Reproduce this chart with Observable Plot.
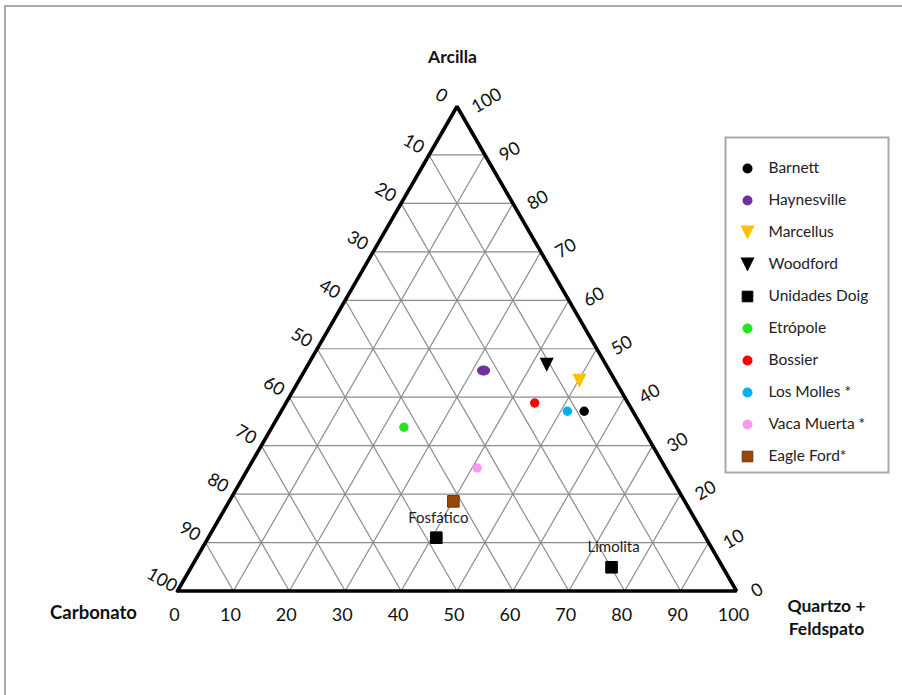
<!DOCTYPE html>
<html><head><meta charset="utf-8">
<script src="https://cdn.jsdelivr.net/npm/d3@7"></script>
<script src="https://cdn.jsdelivr.net/npm/@observablehq/plot@0.6"></script>
<style>
body{margin:0;background:#fff;font-family:Lato,sans-serif;}
#wrap{position:relative;width:902px;height:695px;overflow:hidden;}
#chart{position:absolute;left:0;top:0;}
#legend{position:absolute;left:724px;top:136px;}
#frame{position:absolute;left:4px;top:5px;width:940px;height:760px;border:2px solid #a9a9a9;pointer-events:none;}
</style></head><body>
<div id="wrap"><div id="chart"></div><div id="legend"></div><div id="frame"></div></div>
<script>
// ---- data ----
const series = ["Barnett","Haynesville","Marcellus","Woodford","Unidades Doig","Etrópole","Bossier","Los Molles *","Vaca Muerta *","Eagle Ford*"];
const colors = ["#000000","#7030a0","#ffc000","#000000","#000000","#22e622","#ff0000","#00b0f0","#f59cf2","#984807"];
const shapes = ["circle","ellipse","triangleDown","triangleDown","square","circle","circle","circle","circle","square"];

const sampleSeries = ["Barnett","Haynesville","Marcellus","Woodford","Unidades Doig","Unidades Doig","Etrópole","Bossier","Los Molles *","Vaca Muerta *","Eagle Ford*"];
const sampleLabel  = ["","","","","Fosfático","Limolita","","","","",""];
const arcilla   = [37.1,45.5,43.4,46.7,11.0, 4.9,33.8,38.8,37.1,25.4,18.5];
const quartzo   = [54.2,32.0,50.2,42.7,40.8,75.2,23.6,44.5,51.2,40.9,40.1];
const carbonato = [ 8.7,22.5, 6.4,10.6,48.2,19.9,42.6,16.7,11.7,33.7,41.4];

const ticks = [0,10,20,30,40,50,60,70,80,90,100];
const gridSteps = [10,20,30,40,50,60,70,80,90];

// ---- ternary helpers (x = quartzo + arcilla/2, y = arcilla) ----
const tx = (q, a) => q + a / 2;

const samples = sampleSeries.map((s, i) => {
  const k = series.indexOf(s);
  return {serie: s, label: sampleLabel[i], A: arcilla[i], Q: quartzo[i], C: carbonato[i],
          color: colors[k], edge: d3.color(colors[k]).darker(0.9).formatHex(), shape: shapes[k]};
});

const gridLines = [
  ...gridSteps.map(k => ({x1: tx(0, k), y1: k, x2: tx(100 - k, k), y2: k})),            // constant arcilla
  ...gridSteps.map(k => ({x1: tx(k, 0), y1: 0, x2: tx(k, 100 - k), y2: 100 - k})),      // constant quartzo
  ...gridSteps.map(k => ({x1: tx(100 - k, 0), y1: 0, x2: tx(0, 100 - k), y2: 100 - k})) // constant carbonato
];
const corners = [{q:0,a:0},{q:100,a:0},{q:0,a:100},{q:0,a:0}];

// ---- symbols ----
const rOf = size => Math.sqrt(size / Math.PI);
const triDown = {draw(ctx, size){ const r = rOf(size); ctx.moveTo(-r,-r); ctx.lineTo(r,-r); ctx.lineTo(0,r); ctx.closePath(); }};
const squareSym = {draw(ctx, size){ const r = rOf(size); ctx.rect(-r,-r,2*r,2*r); }};
const ellipseSym = {draw(ctx, size){
  const r = rOf(size), rx = r * 1.3, ry = r, k = 0.5523;
  ctx.moveTo(rx,0);
  ctx.bezierCurveTo(rx, ry*k, rx*k, ry, 0, ry);
  ctx.bezierCurveTo(-rx*k, ry, -rx, ry*k, -rx, 0);
  ctx.bezierCurveTo(-rx, -ry*k, -rx*k, -ry, 0, -ry);
  ctx.bezierCurveTo(rx*k, -ry, rx, -ry*k, rx, 0);
  ctx.closePath();
}};
const symOf = {circle: "circle", ellipse: ellipseSym, triangleDown: triDown, square: squareSym};
const rSize = {circle: 4.7, ellipse: 5, triangleDown: 7, square: 5.8};

const dotMarks = (data, xf, yf, legend) => Object.keys(symOf).map(sh => {
  const sub = data.filter(d => (legend && d.shape === "ellipse" ? "circle" : d.shape) === sh);
  const opts = {y: yf, symbol: symOf[sh],
    r: legend && sh === "square" ? 5.3 : legend && sh === "circle" ? 5 : rSize[sh],
    fill: "color", stroke: sh === "square" ? "edge" : "none", strokeWidth: 1};
  if (legend) { opts.frameAnchor = "left"; opts.dx = 23; } else { opts.x = xf; }
  return Plot.dot(sub, opts);
});

const chart = Plot.plot({
  width: 902, height: 695, margin: 0,
  x: {domain: [0,100], range: [177,736], axis: null},
  y: {domain: [0,100], range: [590.5,106], axis: null},
  color: {type: "identity"},
  style: {fontFamily: "Lato, sans-serif", background: "white", overflow: "visible"},
  marks: [
    Plot.link(gridLines, {x1:"x1", y1:"y1", x2:"x2", y2:"y2", stroke:"#8c8c8c", strokeWidth:1.2}),
    Plot.line(corners, {x: d => tx(d.q, d.a), y: "a", stroke:"black", strokeWidth:3.6, strokeLinejoin:"miter"}),
    // bottom axis: quartzo
    Plot.text(ticks, {x: d => tx(d, 0), y: 0, text: d => String(d), dx: -3, dy: 24.5, fontSize: 18, fill: "#111"}),
    // left axis: carbonato
    Plot.text(ticks, {x: d => tx(0, 100 - d), y: d => 100 - d, text: d => String(d), rotate: 30, dx: -15.5, dy: -11, fontSize: 18, fill: "#111"}),
    // right axis: arcilla
    Plot.text(ticks, {x: d => tx(100 - d, d), y: d => d, text: d => String(d), rotate: -30, textAnchor: "start", dx: 16, dy: 2, fontSize: 18, fill: "#111"}),
    // axis titles
    Plot.text(["Arcilla"], {x: tx(0,100), y: 100, text: d => d, dx: -4.5, dy: -49, fontSize: 17.5, fontWeight: "bold", fill: "#111"}),
    Plot.text(["Carbonato"], {x: tx(0,0), y: 0, text: d => d, dx: -84, dy: 22, fontSize: 18.5, fontWeight: "bold", fill: "#111"}),
    Plot.text(["Quartzo +\nFeldspato"], {x: tx(100,0), y: 0, text: d => d, dx: 90, dy: 25, lineHeight: 1.35, fontSize: 17.5, fontWeight: "bold", fill: "#111"}),
    // sample annotations
    Plot.text(samples.filter(d => d.label), {x: d => tx(d.Q, d.A), y: "A", text: "label", dx: 2, dy: -20, fontSize: 15, fill: "#222"}),
    ...dotMarks(samples, d => tx(d.Q, d.A), "A", false)
  ]
});
document.getElementById("chart").append(chart);

const legendRows = series.map((s, i) => ({name: s, color: colors[i], edge: d3.color(colors[i]).darker(0.9).formatHex(), shape: shapes[i]}));
const legend = Plot.plot({
  width: 165, height: 337, margin: 0,
  y: {type: "point", domain: series, range: [28, 324], padding: 0, axis: null},
  color: {type: "identity"},
  style: {fontFamily: "Lato, sans-serif", background: "white", overflow: "visible"},
  marks: [
    Plot.frame({stroke: "#a9a9a9", strokeWidth: 2, inset: 1}),
    ...dotMarks(legendRows, undefined, "name", true),
    Plot.text(legendRows, {y: "name", text: "name", frameAnchor: "left", dx: 44, textAnchor: "start", fontSize: 15.5, fill: "#222"})
  ]
});
document.getElementById("legend").append(legend);
</script>
</body></html>
